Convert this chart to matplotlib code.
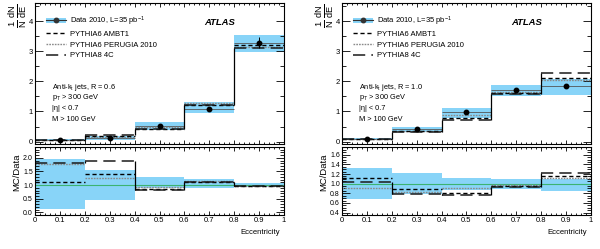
from matplotlib import pyplot as plt
from matplotlib.lines import Line2D
from matplotlib.patches import Patch
from matplotlib.ticker import MultipleLocator

plt.rcParams['font.family'] = ['Liberation Sans', 'DejaVu Sans']
plt.rcParams['mathtext.fontset'] = 'custom'
plt.rcParams['mathtext.rm'] = 'Liberation Sans'
plt.rcParams['mathtext.it'] = 'Liberation Sans:italic'
plt.rcParams['mathtext.bf'] = 'Liberation Sans:bold'

bin_edges = [0.0, 0.2, 0.4, 0.6, 0.8, 1.0]
bin_centres = [0.1, 0.3, 0.5, 0.7, 0.9]
x_ticks = [0, 0.1, 0.2, 0.3, 0.4, 0.5, 0.6, 0.7, 0.8, 0.9, 1.0]
x_tick_labels = ['0', '0.1', '0.2', '0.3', '0.4', '0.5', '0.6', '0.7', '0.8', '0.9', '1']

# R = 0.6
r06_data = [0.04, 0.12, 0.51, 1.09, 3.28]
r06_stat = [0.01, 0.03, 0.04, 0.07, 0.18]
r06_band_lo = [0.01, 0.05, 0.40, 0.95, 2.98]
r06_band_hi = [0.08, 0.19, 0.64, 1.31, 3.53]
r06_ambt1 = [0.05, 0.17, 0.43, 1.20, 3.20]
r06_perugia = [0.06, 0.15, 0.47, 1.27, 3.15]
r06_p8 = [0.06, 0.22, 0.42, 1.20, 3.10]
r06_ratio_band_lo = [0.12, 0.45, 0.88, 0.90, 0.92]
r06_ratio_band_hi = [1.97, 1.55, 1.31, 1.22, 1.08]
r06_ratio_ambt1 = [1.12, 1.42, 0.84, 1.10, 0.97]
r06_ratio_perugia = [1.78, 1.25, 0.92, 1.15, 0.97]
r06_ratio_p8 = [1.80, 1.87, 0.83, 1.10, 0.95]

# R = 1.0
r10_data = [0.08, 0.41, 0.97, 1.70, 1.85]
r10_stat = [0.01, 0.02, 0.03, 0.04, 0.05]
r10_band_lo = [0.05, 0.33, 0.79, 1.50, 1.56]
r10_band_hi = [0.11, 0.50, 1.12, 1.89, 2.08]
r10_ambt1 = [0.09, 0.36, 0.79, 1.61, 2.10]
r10_perugia = [0.072, 0.34, 0.88, 1.65, 2.04]
r10_p8 = [0.083, 0.32, 0.73, 1.57, 2.26]
r10_ratio_band_lo = [0.69, 0.79, 0.86, 0.88, 0.84]
r10_ratio_band_hi = [1.33, 1.22, 1.12, 1.10, 1.10]
r10_ratio_ambt1 = [1.12, 0.88, 0.80, 0.95, 1.15]
r10_ratio_perugia = [0.90, 0.83, 0.91, 0.97, 1.11]
r10_ratio_p8 = [1.04, 0.78, 0.76, 0.93, 1.22]

band_col = '#88d4f8'
ambt1_style = dict(color='black', linestyle=(0, (3, 2)), linewidth=1.0)
perugia_style = dict(color='#8a8a8a', linestyle=(0, (1.2, 0.8)), linewidth=1.0)
p8_style = dict(color='#1a1a1a', linestyle=(0, (8, 4)), linewidth=1.1)

W, H = 600, 249


def px_axes(fig, x0, x1, ytop, ybot):
    return fig.add_axes([x0 / W, (H - ybot) / H, (x1 - x0) / W, (ybot - ytop) / H])


def style_axis(ax, ymajor, yminor, show_x_labels, ylabsize):
    ax.set_xlim(0, 1)
    ax.xaxis.set_major_locator(MultipleLocator(0.1))
    ax.xaxis.set_minor_locator(MultipleLocator(0.02))
    ax.yaxis.set_major_locator(MultipleLocator(ymajor))
    ax.yaxis.set_minor_locator(MultipleLocator(yminor))
    ax.tick_params(which='both', direction='in', top=True, right=True, labelsize=5.5, pad=1.5)
    ax.tick_params(axis='y', which='major', length=5.5, width=0.6, labelsize=ylabsize)
    ax.tick_params(axis='y', which='minor', length=2.8, width=0.6)
    ax.tick_params(axis='x', which='major', length=3, width=0.6)
    ax.tick_params(axis='x', which='minor', length=1.5, width=0.6)
    for sp in ax.spines.values():
        sp.set_linewidth(0.8)
    if show_x_labels:
        ax.set_xticks(x_ticks)
        ax.set_xticklabels(x_tick_labels)
    else:
        ax.tick_params(axis='x', labelbottom=False)


def draw_hist(ax, vals, style, verticals=False):
    ax.hlines(vals, bin_edges[:-1], bin_edges[1:], **style)
    if verticals:
        ax.vlines(bin_edges[1:-1], vals[:-1], vals[1:], color='black', linewidth=0.9)


def draw_band(ax, lo, hi):
    for i in range(len(lo)):
        ax.fill_between([bin_edges[i], bin_edges[i + 1]], lo[i], hi[i], color=band_col, linewidth=0, zorder=1)


def draw_panel(fig, x0, x1, radius, data, stat, blo, bhi, ambt1, perugia, p8,
               rblo, rbhi, r_ambt1, r_perugia, r_p8, rlim, rmajor, rminor):
    ax = px_axes(fig, x0, x1, 3, 144)
    draw_band(ax, blo, bhi)
    ax.hlines(data, bin_edges[:-1], bin_edges[1:], color='#555555', linewidth=0.6, zorder=2)
    draw_hist(ax, perugia, perugia_style)
    draw_hist(ax, ambt1, ambt1_style)
    draw_hist(ax, p8, p8_style, verticals=True)
    ax.errorbar(bin_centres, data, yerr=stat, fmt='o', color='black', markersize=3.2,
                elinewidth=0.7, capsize=0, zorder=5)
    ax.set_ylim(-0.08, 4.6)
    style_axis(ax, 1, 0.5, False, 5.5)

    handles = [(Patch(facecolor=band_col, edgecolor='none'),
                Line2D([], [], color='#333333', linewidth=0.8, marker='o', markersize=3.2)),
               Line2D([], [], **ambt1_style),
               Line2D([], [], **perugia_style),
               Line2D([], [], **p8_style)]
    labels = [r'Data 2010, L=35 pb$^{-1}$', 'PYTHIA6 AMBT1', 'PYTHIA6 PERUGIA 2010', 'PYTHIA8 4C']
    ax.legend(handles, labels, loc='upper left', bbox_to_anchor=(0.045, 0.92), frameon=False,
              fontsize=5.5, handlelength=2.6, handletextpad=0.5, labelspacing=0.42,
              borderpad=0, borderaxespad=0)
    ax.text(0.68, 0.86, 'ATLAS', transform=ax.transAxes, fontsize=6.8, fontweight='bold',
            fontstyle='italic', va='center')
    info = [r'Anti-k$_{\rm t}$ jets, R = ' + radius, r'p$_{\rm T}$ > 300 GeV', '|η| < 0.7', 'M > 100 GeV']
    for i, line in enumerate(info):
        ax.text(0.07, 0.404 - i * 0.076, line, transform=ax.transAxes, fontsize=5.3, va='center')

    rax = px_axes(fig, x0, x1, 147, 215)
    draw_band(rax, rblo, rbhi)
    rax.axhline(1.0, color='#3cb371', linewidth=0.8, zorder=2)
    draw_hist(rax, r_perugia, perugia_style)
    draw_hist(rax, r_ambt1, ambt1_style)
    draw_hist(rax, r_p8, p8_style, verticals=True)
    rax.set_ylim(*rlim)
    style_axis(rax, rmajor, rminor, True, 5)

    fig.text((x0 - 18) / W, (H - 172) / H, 'MC/Data', rotation=90, fontsize=6.8, ha='center', va='center')
    fig.text((x0 - 16) / W, (H - 4) / H, r'$\frac{\mathrm{1}}{\mathrm{N}}\,\frac{\mathrm{dN}}{\mathrm{dE}}$',
             rotation=90, fontsize=9.5, ha='center', va='top')
    fig.text((x1 - 4) / W, (H - 232) / H, 'Eccentricity', fontsize=5.5, ha='right', va='center')


fig = plt.figure(figsize=(6.0, 2.49), dpi=100)
draw_panel(fig, 35, 284, '0.6', r06_data, r06_stat, r06_band_lo, r06_band_hi,
           r06_ambt1, r06_perugia, r06_p8, r06_ratio_band_lo, r06_ratio_band_hi,
           r06_ratio_ambt1, r06_ratio_perugia, r06_ratio_p8, (-0.1, 2.4), 0.5, 0.1)
draw_panel(fig, 342, 591, '1.0', r10_data, r10_stat, r10_band_lo, r10_band_hi,
           r10_ambt1, r10_perugia, r10_p8, r10_ratio_band_lo, r10_ratio_band_hi,
           r10_ratio_ambt1, r10_ratio_perugia, r10_ratio_p8, (0.35, 1.76), 0.2, 0.05)
fig.savefig('out.png', dpi=100)
